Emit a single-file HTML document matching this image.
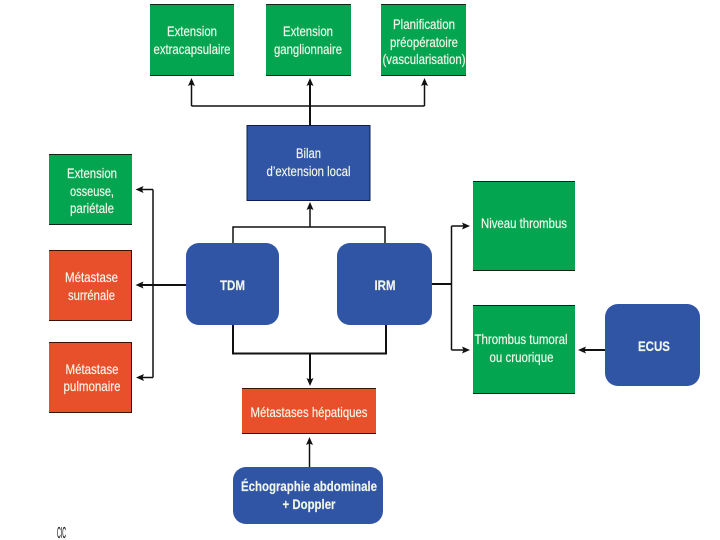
<!DOCTYPE html>
<html><head><meta charset="utf-8"><style>
html,body{margin:0;padding:0;background:#fff;width:720px;height:540px;overflow:hidden}
svg{display:block}
text{font-family:"Liberation Sans",sans-serif;font-size:14px;fill:#f1f6ea;stroke:#f1f6ea;stroke-width:.18;text-anchor:middle}
.b{font-weight:bold}
.l{stroke:#111;fill:none;stroke-width:1.5}
.t{stroke:#111;fill:none;stroke-width:2}
.a{fill:#111;stroke:none}
</style></head><body>
<svg width="720" height="540" viewBox="0 0 720 540" xmlns="http://www.w3.org/2000/svg">
<rect width="720" height="540" fill="#fff"/>
<!-- connectors -->
<path class="l" d="M191.500 106H424.500M191.500 106V84M424.500 106V84"/>
<path class="t" d="M310 125V84"/>
<path class="l" d="M233 243V227H385V243"/>
<path class="l" d="M310 227V208"/>
<path class="l" d="M153 189.500V377.500M153 189.500H140M153 377.500H140"/>
<path class="t" d="M186 285H140"/>
<path class="t" d="M233 325V353.500H386V325"/>
<path class="t" d="M310 353.500V380"/>
<path class="l" d="M309.500 467V443"/>
<path class="t" d="M432 284H451"/>
<path class="l" d="M451.500 226V350M451.500 226H467M451.500 350H467"/>
<path class="t" d="M605 350H584"/>
<!-- arrowheads: notched -->
<path class="a" d="M191.500 78l-3.500 8 3.500-1.500 3.500 1.500zM310 78l-3.500 8 3.500-1.500 3.500 1.500zM424.500 78l-3.500 8 3.500-1.500 3.500 1.500zM310 202l-3.500 8 3.500-1.500 3.500 1.500zM309.500 437l-3.500 8 3.500-1.500 3.500 1.500z"/>
<path class="a" d="M135.500 189.500l8-3.500-1.500 3.500 1.500 3.500zM135.500 285l8-3.500-1.500 3.500 1.500 3.500zM136 377.500l8-3.500-1.500 3.500 1.500 3.500zM578 350l8-3.500-1.500 3.500 1.500 3.500z"/>
<path class="a" d="M310 386l-3.500-8 3.500 1.500 3.500-1.500zM470 226l-8-3.500 1.500 3.500-1.500 3.500zM470 350l-8-3.500 1.500 3.500-1.500 3.500z"/>
<!-- green -->
<g fill="#04a551">
<rect x="150" y="4" width="84" height="72"/>
<rect x="266" y="4" width="85" height="72"/>
<rect x="381" y="4" width="85" height="72"/>
<rect x="49" y="154" width="83" height="71"/>
<rect x="473" y="181" width="102" height="90"/>
<rect x="473" y="305" width="102" height="89"/>
</g>
<!-- red -->
<g fill="#e8502c">
<rect x="49" y="250" width="83" height="71"/>
<rect x="49" y="342" width="83" height="71"/>
<rect x="242" y="388" width="134" height="46"/>
</g>
<!-- blue -->
<g fill="#2f55a4">
<rect x="247" y="125" width="123" height="76"/>
<rect x="186" y="243" width="93" height="82" rx="13"/>
<rect x="337" y="243" width="95" height="82" rx="13"/>
<rect x="605" y="304" width="95" height="82" rx="13"/>
<rect x="233" y="467" width="150" height="57" rx="13"/>
</g>
<!-- dark edges -->
<path stroke="#10251a" stroke-width="1" fill="none" d="M150 75.500H234M266 75.500H351M381 75.500H466M381 4.500H466M150 4.500H234M266 4.500H351M473 181.500H575M473 270.500H575M473 305.500H575M473 393.500H575M49 224.500H132M49 154.500H132"/>
<path stroke="#3a1208" stroke-width="1" fill="none" d="M49 320.500H132M49 250.500H132M49 412.500H132M49 342.500H132M242 388.500H376M242 433.500H376M131.500 250V321M131.500 342V413"/>
<path stroke="#0c1f4e" stroke-width="1" fill="none" d="M247 125.500H370V200.500H247Z"/>
<!-- labels -->
<text x="192" y="36" textLength="50" lengthAdjust="spacingAndGlyphs">Extension</text>
<text x="192" y="54" textLength="77" lengthAdjust="spacingAndGlyphs">extracapsulaire</text>
<text x="308" y="36" textLength="50" lengthAdjust="spacingAndGlyphs">Extension</text>
<text x="308" y="54" textLength="68" lengthAdjust="spacingAndGlyphs">ganglionnaire</text>
<text x="424" y="29" textLength="62" lengthAdjust="spacingAndGlyphs">Planification</text>
<text x="424" y="47" textLength="68" lengthAdjust="spacingAndGlyphs">préopératoire</text>
<text x="424" y="64" textLength="83" lengthAdjust="spacingAndGlyphs">(vascularisation)</text>
<text x="308.500" y="158" textLength="25" lengthAdjust="spacingAndGlyphs">Bilan</text>
<text x="308.500" y="176" textLength="84" lengthAdjust="spacingAndGlyphs">d’extension local</text>
<text x="92" y="178" textLength="50" lengthAdjust="spacingAndGlyphs">Extension</text>
<text x="92" y="196" textLength="44" lengthAdjust="spacingAndGlyphs">osseuse,</text>
<text x="92" y="213" textLength="44" lengthAdjust="spacingAndGlyphs">pariétale</text>
<text x="91.500" y="282" textLength="53" lengthAdjust="spacingAndGlyphs">Métastase</text>
<text x="91.500" y="300" textLength="47" lengthAdjust="spacingAndGlyphs">surrénale</text>
<text x="92" y="374" textLength="53" lengthAdjust="spacingAndGlyphs">Métastase</text>
<text x="92" y="391" textLength="57" lengthAdjust="spacingAndGlyphs">pulmonaire</text>
<text class="b" x="232.500" y="290" textLength="25" lengthAdjust="spacingAndGlyphs">TDM</text>
<text class="b" x="385" y="290" textLength="21" lengthAdjust="spacingAndGlyphs">IRM</text>
<text x="524" y="228" textLength="86" lengthAdjust="spacingAndGlyphs">Niveau thrombus</text>
<text x="521" y="344" textLength="93" lengthAdjust="spacingAndGlyphs">Thrombus tumoral</text>
<text x="521.500" y="362" textLength="64" lengthAdjust="spacingAndGlyphs">ou cruorique</text>
<text class="b" x="654" y="351" textLength="32" lengthAdjust="spacingAndGlyphs">ECUS</text>
<text x="309" y="417" textLength="117" lengthAdjust="spacingAndGlyphs">Métastases hépatiques</text>
<text class="b" x="309" y="491" textLength="136" lengthAdjust="spacingAndGlyphs">Échographie abdominale</text>
<text class="b" x="309" y="509" textLength="53" lengthAdjust="spacingAndGlyphs">+ Doppler</text>
<text x="61.500" y="538" textLength="9" lengthAdjust="spacingAndGlyphs" style="fill:#111;stroke:#111;font-size:16px">CIC</text>
</svg>
</body></html>
